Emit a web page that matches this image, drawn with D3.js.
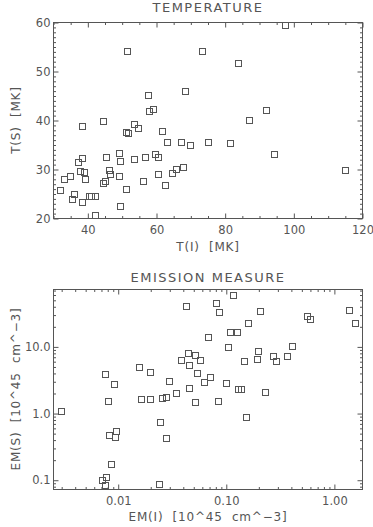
<!DOCTYPE html>
<html>
<head>
<meta charset="utf-8">
<script src="https://d3js.org/d3.v7.min.js"></script>
<style>
body { margin: 0; background: #fff; }
text { font-family: "DejaVu Sans", sans-serif; fill: #555; }
</style>
</head>
<body>
<svg width="373" height="527"></svg>
<script>
// top panel: temperature, T(I) vs T(S) in MK
var tempI = [97.3, 51.4, 73.2, 83.6, 68.2, 57.6, 57.8, 59.1, 91.9, 87.0, 38.3, 44.5, 53.5, 54.6,
    51.2, 51.7, 61.7, 63.1, 67.2, 69.8, 74.9, 81.4, 94.1, 115.0, 38.4, 37.0, 45.4, 49.0, 49.4,
    53.4, 56.7, 59.7, 60.5, 37.7, 39.0, 39.2, 34.8, 33.1, 46.2, 46.5, 49.2, 60.5, 64.6, 65.7,
    67.7, 44.3, 45.1, 56.2, 62.6, 51.0, 31.9, 36.0, 35.5, 38.3, 40.2, 41.0, 42.2, 49.4, 42.2];
var tempS = [59.4, 54.2, 54.1, 51.8, 46.1, 45.3, 42.0, 42.3, 42.1, 40.1, 38.8, 39.9, 39.2, 38.4,
    37.6, 37.4, 37.8, 35.6, 35.6, 35.1, 35.7, 35.5, 33.2, 29.9, 32.4, 31.5, 32.5, 33.3, 31.8,
    32.1, 32.5, 33.2, 32.5, 29.7, 29.4, 28.0, 28.6, 28.0, 29.9, 29.1, 28.6, 29.0, 29.2, 30.2,
    30.5, 27.3, 27.6, 27.6, 26.8, 26.0, 25.9, 24.9, 24.0, 23.4, 24.6, 24.5, 24.5, 22.5, 20.8];

// bottom panel: emission measure, 10^45 cm^-3
var emI = [0.116, 0.0425, 0.081, 0.085, 0.205, 0.56, 0.60, 1.37, 1.54, 0.158, 0.108, 0.125,
    0.0675, 0.104, 0.405, 0.198, 0.269, 0.286, 0.362, 0.191, 0.145, 0.044, 0.0516, 0.038,
    0.0455, 0.0577, 0.0533, 0.0703, 0.0619, 0.099, 0.0294, 0.0157, 0.0198, 0.00747, 0.0091,
    0.127, 0.137, 0.23, 0.045, 0.034, 0.0275, 0.0253, 0.00293, 0.00803, 0.0164, 0.0196,
    0.0516, 0.0839, 0.153, 0.0243, 0.0279, 0.0241, 0.00826, 0.0093, 0.0096, 0.00856,
    0.00706, 0.00774, 0.00753];
var emS = [60, 41, 46, 33, 34, 29, 26.5, 36, 23, 23, 17, 16.6,
    14, 10, 10.2, 8.6, 7.2, 6.2, 7.3, 6.5, 6.25, 8.2, 7.5, 6.4,
    5.4, 6.4, 4.07, 3.55, 3.0, 2.88, 3.1, 5.0, 4.2, 3.94, 2.8,
    2.34, 2.34, 2.09, 2.4, 2.04, 1.78, 1.72, 1.10, 1.55, 1.66, 1.65,
    1.51, 1.52, 0.90, 0.75, 0.43, 0.0875, 0.48, 0.45, 0.545, 0.174,
    0.101, 0.112, 0.085];

var tempXTicks = [40, 60, 80, 100, 120];
var tempYTicks = [20, 30, 40, 50, 60];
var emXTicks = [0.01, 0.1, 1];
var emXTickLabels = ["0.01", "0.10", "1.00"];
var emYTicks = [0.1, 1, 10];
var emYTickLabels = ["0.1", "1.0", "10.0"];

var svg = d3.select("svg");
var col = "#555";

function frame(g, x, y, w, h) {
    g.append("rect").attr("x", x).attr("y", y).attr("width", w).attr("height", h)
        .attr("fill", "none").attr("stroke", col).attr("stroke-width", 1);
}

// draw axes on all four sides, ticks pointing inward
function axes(g, xs, ys, xMajor, xMinor, yMajor, yMinor, xFmt, yFmt) {
    var r = xs.range(), b = ys.range();
    var x0 = r[0], x1 = r[1], y0 = b[0], y1 = b[1];
    var bx = g.append("g").attr("transform", "translate(0," + y0 + ")")
        .call(d3.axisBottom(xs).tickValues(xMajor).tickSize(-5).tickPadding(7).tickFormat(xFmt));
    g.append("g").attr("transform", "translate(0," + y0 + ")")
        .call(d3.axisBottom(xs).tickValues(xMinor).tickSize(-2.5).tickFormat(""));
    g.append("g").attr("transform", "translate(0," + y1 + ")")
        .call(d3.axisTop(xs).tickValues(xMajor).tickSize(-5).tickFormat(""));
    g.append("g").attr("transform", "translate(0," + y1 + ")")
        .call(d3.axisTop(xs).tickValues(xMinor).tickSize(-2.5).tickFormat(""));
    g.append("g").attr("transform", "translate(" + x0 + ",0)")
        .call(d3.axisLeft(ys).tickValues(yMajor).tickSize(-5).tickPadding(3).tickFormat(yFmt));
    g.append("g").attr("transform", "translate(" + x0 + ",0)")
        .call(d3.axisLeft(ys).tickValues(yMinor).tickSize(-2.5).tickFormat(""));
    g.append("g").attr("transform", "translate(" + x1 + ",0)")
        .call(d3.axisRight(ys).tickValues(yMajor).tickSize(-5).tickFormat(""));
    g.append("g").attr("transform", "translate(" + x1 + ",0)")
        .call(d3.axisRight(ys).tickValues(yMinor).tickSize(-2.5).tickFormat(""));
    g.selectAll(".domain").remove();
    g.selectAll(".tick line").attr("stroke", col);
    g.selectAll(".tick text").attr("font-size", 11.5).attr("font-family", "DejaVu Sans")
        .attr("fill", "#555");
    // keep the last bottom label inside the window
    bx.selectAll(".tick text").filter(function (d) { return xs(d) > 355; })
        .attr("text-anchor", "end").attr("dx", "11px");
    frame(g, x0, y1, x1 - x0, y0 - y1);
}

function squares(g, xs, ys, xv, yv) {
    g.selectAll(".pt").data(xv).enter().append("rect")
        .attr("x", function (d) { return Math.round(xs(d)) - 3; })
        .attr("y", function (d, i) { return Math.round(ys(yv[i])) - 3; })
        .attr("width", 6).attr("height", 6)
        .attr("fill", "none").attr("stroke", col).attr("stroke-width", 1)
        .attr("transform", "translate(0.5,0.5)");
}

function titles(g, title, xl, yl, cx, ty, xly, ylx, yly) {
    g.append("text").attr("x", cx).attr("y", ty).attr("text-anchor", "middle")
        .attr("font-size", 13).attr("letter-spacing", "1.5px").attr("fill", "#666").text(title);
    g.append("text").attr("x", cx).attr("y", xly).attr("text-anchor", "middle")
        .attr("font-size", 12).attr("letter-spacing", "0.8px")
        .style("white-space", "pre").text(xl);
    g.append("text").attr("transform", "translate(" + ylx + "," + yly + ") rotate(-90)")
        .attr("text-anchor", "middle").attr("font-size", 12).attr("letter-spacing", "0.8px")
        .style("white-space", "pre").text(yl);
}

// ---------- temperature ----------
var gT = svg.append("g");
var xT = d3.scaleLinear().domain([30, 120]).range([53.5, 362.5]);
var yT = d3.scaleLinear().domain([20, 60]).range([218.5, 22.5]);
var tXMinor = d3.range(30, 121, 5).filter(function (v) { return tempXTicks.indexOf(v) < 0; });
var tYMinor = d3.range(20, 61, 1).filter(function (v) { return tempYTicks.indexOf(v) < 0; });
axes(gT, xT, yT, tempXTicks, tXMinor, tempYTicks, tYMinor, d3.format("d"), d3.format("d"));
squares(gT, xT, yT, tempI, tempS);
titles(gT, "TEMPERATURE", "T(I)  [MK]", "T(S)  [MK]", 208, 12, 251, 20, 120);

// ---------- emission measure ----------
var gE = svg.append("g");
var xE = d3.scaleLog().domain([0.00252, 1.82]).range([53.5, 362.5]);
var yE = d3.scaleLog().domain([0.0726, 72.6]).range([489.5, 289.5]);
var eXMinor = [], eYMinor = [];
[0.001, 0.01, 0.1, 1].forEach(function (dec) {
    for (var m = 2; m <= 9; m++) {
        var v = dec * m;
        if (v >= 0.00252 && v <= 1.82) eXMinor.push(v);
    }
});
[0.01, 0.1, 1, 10].forEach(function (dec) {
    for (var m = 2; m <= 9; m++) {
        var v = dec * m;
        if (v >= 0.0726 && v <= 72.6) eYMinor.push(v);
    }
});
axes(gE, xE, yE, emXTicks, eXMinor, emYTicks, eYMinor,
    function (d, i) { return emXTickLabels[i]; },
    function (d, i) { return emYTickLabels[i]; });
squares(gE, xE, yE, emI, emS);
titles(gE, "EMISSION MEASURE", "EM(I)  [10^45  cm^\u22123]", "EM(S)  [10^45  cm^\u22123]", 208, 282, 521, 20, 389);
</script>
</body>
</html>
